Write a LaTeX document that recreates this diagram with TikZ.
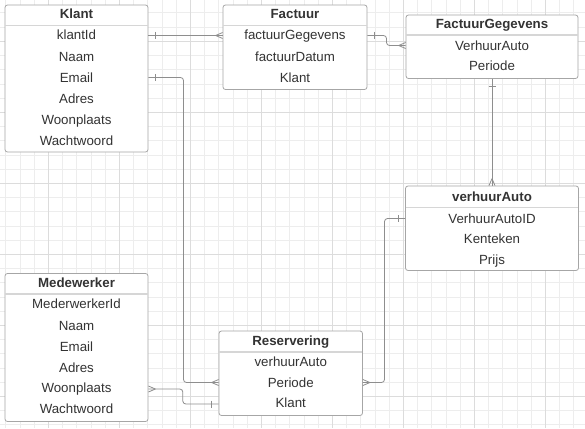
\documentclass[tikz,border=0pt]{standalone}
\usepackage{fontspec}
\setmainfont{Liberation Sans}
\definecolor{boxgray}{HTML}{A6A6A6}
\definecolor{sepgray}{HTML}{D6D6D6}
\definecolor{lgray}{HTML}{8E8E8E}
\definecolor{txt}{HTML}{333333}
\definecolor{gminor}{HTML}{EDEDED}
\definecolor{gmajor}{HTML}{DCDCDC}
\tikzset{
  entity/.style={draw=boxgray, fill=white, rounded corners=2.5pt, line width=0.8pt, inner sep=0pt},
  sepline/.style={draw=sepgray, line width=1.6pt},
  ttl/.style={font=\bfseries\fontsize{13.3}{15}\selectfont, text=txt, inner sep=0pt, text height=9.5pt, text depth=0.5pt},
  fld/.style={font=\fontsize{13.3}{15}\selectfont, text=txt, inner sep=0pt, text height=9.5pt, text depth=0.5pt},
  conn/.style={draw=lgray, line width=0.8pt, rounded corners=3pt},
  mk/.style={draw=lgray, line width=0.8pt},
  crowW/.pic={\draw[mk] (-7,0) -- (0,-3) (-7,0) -- (0,3);},
  crowE/.pic={\draw[mk] (7,0) -- (0,-3) (7,0) -- (0,3);},
  crowN/.pic={\draw[mk] (0,-7) -- (-3,0) (0,-7) -- (3,0);},
  barW/.pic={\draw[mk] (-7,-3.5) -- (-7,3.5);},
  barE/.pic={\draw[mk] (7,-3.5) -- (7,3.5);},
  barS/.pic={\draw[mk] (-3.5,7) -- (3.5,7);},
}
\begin{document}
\begin{tikzpicture}[x=1pt,y=-1pt]
\useasboundingbox (0,0) rectangle (585,428);
\fill[white] (0,0) rectangle (585,428);
% grid
\foreach \i in {0,...,40} \draw[gminor, line width=0.8pt] ({5.7+14.2*\i},0) -- ++(0,428);
\foreach \j in {0,...,29} \draw[gminor, line width=0.8pt] (0,{12.9+14.2*\j}) -- ++(585,0);
\foreach \m in {0,...,7} \draw[gmajor, line width=0.8pt] ({48.3+71*\m},0) -- ++(0,428);
\foreach \m in {0,...,5} \draw[gmajor, line width=0.8pt] (0,{41.3+71*\m}) -- ++(585,0);

% Klant
\node[entity, minimum width=143pt, minimum height=147pt] (klant) at (76.5,78.5) {};
\draw[sepline] ([xshift=0.5pt]klant.west |- 0,25.5) -- ([xshift=-0.5pt]klant.east |- 0,25.5);
\node[ttl] (klantT) at (76.5,14.5) {Klant};
\node[fld] (k1) at (76.5,35.5) {klantId};
\node[fld] (k2) at (76.5,56.5) {Naam};
\node[fld] (k3) at (76.5,77.5) {Email};
\node[fld] (k4) at (76.5,98.5) {Adres};
\node[fld] (k5) at (76.5,119.5) {Woonplaats};
\node[fld] (k6) at (76.5,141) {Wachtwoord};

% Factuur
\node[entity, minimum width=144pt, minimum height=84.5pt] (fac) at (295,47.25) {};
\draw[sepline] ([xshift=0.5pt]fac.west |- 0,25.5) -- ([xshift=-0.5pt]fac.east |- 0,25.5);
\node[ttl] (facT) at (295,14.5) {Factuur};
\node[fld] (f1) at (295,35.5) {factuurGegevens};
\node[fld] (f2) at (295,56.5) {factuurDatum};
\node[fld] (f3) at (295,77.5) {Klant};

% FactuurGegevens
\node[entity, minimum width=172pt, minimum height=63.5pt] (fg) at (492,46.75) {};
\draw[sepline] ([xshift=0.5pt]fg.west |- 0,35) -- ([xshift=-0.5pt]fg.east |- 0,35);
\node[ttl] (fgT) at (492,24.5) {FactuurGegevens};
\node[fld] (g1) at (492,45.5) {VerhuurAuto};
\node[fld] (g2) at (492,66) {Periode};

% verhuurAuto
\node[entity, minimum width=173pt, minimum height=84.5pt] (va) at (492,228.25) {};
\draw[sepline] ([xshift=0.5pt]va.west |- 0,207.5) -- ([xshift=-0.5pt]va.east |- 0,207.5);
\node[ttl] (vaT) at (492,196.5) {verhuurAuto};
\node[fld] (v1) at (492,218.5) {VerhuurAutoID};
\node[fld] (v2) at (492,239) {Kenteken};
\node[fld] (v3) at (492,259.5) {Prijs};

% Medewerker
\node[entity, minimum width=143pt, minimum height=148pt] (mw) at (76.5,347.5) {};
\draw[sepline] ([xshift=0.5pt]mw.west |- 0,294) -- ([xshift=-0.5pt]mw.east |- 0,294);
\node[ttl] (mwT) at (76.5,283) {Medewerker};
\node[fld] (m1) at (76.5,303.5) {MederwerkerId};
\node[fld] (m2) at (76.5,325.5) {Naam};
\node[fld] (m3) at (76.5,346.5) {Email};
\node[fld] (m4) at (76.5,367.5) {Adres};
\node[fld] (m5) at (76.5,388) {Woonplaats};
\node[fld] (m6) at (76.5,409) {Wachtwoord};

% Reservering
\node[entity, minimum width=143.5pt, minimum height=84.5pt] (res) at (290.75,373.25) {};
\draw[sepline] ([xshift=0.5pt]res.west |- 0,352) -- ([xshift=-0.5pt]res.east |- 0,352);
\node[ttl] (resT) at (290.75,340.5) {Reservering};
\node[fld] (r1) at (290.75,362) {verhuurAuto};
\node[fld] (r2) at (290.75,382.5) {Periode};
\node[fld] (r3) at (290.75,403) {Klant};

% helper coordinates
\coordinate (c2a) at (386.5,35.5);
\coordinate (c4a) at (183.5,77.5);
\coordinate (c5a) at (384.5,218.5);
\coordinate (c6a) at (182.8,389);
\coordinate (c6b) at (182.8,404);

% connectors
\draw[conn] (klant.east |- k1) -- (fac.west |- k1);
\pic at (klant.east |- k1) {barE};
\pic at (fac.west |- k1) {crowW};

\draw[conn] (fac.east |- f1) -- (c2a) -- (c2a |- g1) -- (fg.west |- g1);
\pic at (fac.east |- f1) {barE};
\pic at (fg.west |- g1) {crowW};

\draw[conn] (fg.south) -- (va.north);
\pic at (fg.south) {barS};
\pic at (va.north) {crowN};

\draw[conn] (klant.east |- k3) -- (c4a) -- (c4a |- r2) -- (res.west |- r2);
\pic at (klant.east |- k3) {barE};
\pic at (res.west |- r2) {crowW};

\draw[conn] (va.west |- v1) -- (c5a) -- (c5a |- r2) -- (res.east |- r2);
\pic at (va.west |- v1) {barW};
\pic at (res.east |- r2) {crowE};

\draw[conn] (mw.east |- c6a) -- (c6a) -- (c6b) -- (res.west |- c6b);
\pic at (mw.east |- c6a) {crowE};
\pic at (res.west |- c6b) {barW};
\end{tikzpicture}
\end{document}
